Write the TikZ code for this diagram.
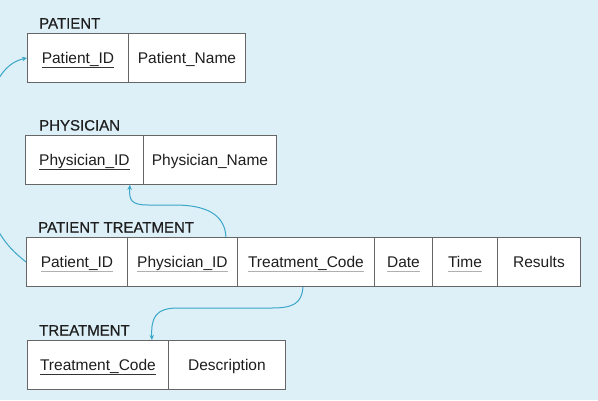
\documentclass[tikz,border=0pt]{standalone}
\usepackage{fontspec}
\setmainfont{Liberation Sans}
\newfontfamily\labelfont[FakeBold=0.6]{Liberation Sans}
\usetikzlibrary{arrows.meta}
\definecolor{bg}{HTML}{DDF0F8}
\definecolor{linkc}{HTML}{3AA6C8}
\definecolor{boxline}{HTML}{666666}
\definecolor{ink}{HTML}{1E1E1E}
\definecolor{keydark}{HTML}{333333}
\definecolor{keylight}{HTML}{B0B0B0}
\newsavebox\keybox
\newcommand\keyu[2]{\sbox\keybox{#2}\rlap{\color{#1}\rule[-4.5pt]{\wd\keybox}{1.1pt}}\usebox\keybox}
\begin{document}
\begin{tikzpicture}[x=1pt,y=-1pt,
  cell/.style={draw=boxline, fill=white, line width=0.9pt, anchor=north west,
    inner sep=0pt, minimum height=49pt, text height=11pt, text depth=0pt,
    font=\fontsize{15.5}{18}\selectfont, text=ink},
  tlabel/.style={anchor=base west, inner sep=0pt,
    font=\labelfont\fontsize{15}{18}\selectfont, text=ink},
  fk/.style={draw=linkc, line width=1pt, -{Stealth[length=5pt,width=4.5pt]}}]
\fill[bg] (0,0) rectangle (598,400);
\useasboundingbox (0,0) rectangle (598,400);
\clip (0,0) rectangle (598,400);

% PATIENT
\node[tlabel] (lp) at (39,28.5) {PATIENT};
\node[cell, minimum width=101pt] (p1) at (27,33) {\keyu{keydark}{Patient\_ID}};
\node[cell, minimum width=117pt] (p2) at (128,33) {Patient\_Name};

% PHYSICIAN
\node[tlabel] (lh) at (39,130.5) {PHYSICIAN};
\node[cell, minimum width=118pt] (h1) at (25,135) {\keyu{keydark}{Physician\_ID}};
\node[cell, minimum width=133pt] (h2) at (143,135) {Physician\_Name};

% PATIENT TREATMENT
\node[tlabel] (lt) at (38,232.5) {PATIENT TREATMENT};
\node[cell, minimum width=101pt] (t1) at (26,237) {\keyu{keylight}{Patient\_ID}};
\node[cell, minimum width=110pt] (t2) at (127,237) {\keyu{keylight}{Physician\_ID}};
\node[cell, minimum width=137pt] (t3) at (237,237) {\keyu{keylight}{Treatment\_Code}};
\node[cell, minimum width=58pt] (t4) at (374,237) {\keyu{keylight}{Date}};
\node[cell, minimum width=65pt] (t5) at (432,237) {\keyu{keylight}{Time}};
\node[cell, minimum width=83pt] (t6) at (497,237) {Results};

% TREATMENT
\node[tlabel] (lr) at (39,335.5) {TREATMENT};
\node[cell, minimum width=141pt] (r1) at (27,340) {\keyu{keydark}{Treatment\_Code}};
\node[cell, minimum width=117pt] (r2) at (168,340) {Description};

% connectors
\draw[fk] (t1.west) .. controls (5,245) and (-10,230) .. (-25,160)
  .. controls (-12,80) and (5,63) .. (p1.west);
\draw[fk] ([xshift=-12pt]t2.north east) .. controls (225,214) and (205,205) .. (175,205)
  -- (148,205) .. controls (131,205) and (129,200) .. ([xshift=-14pt]h1.south east);
\draw[fk] ([xshift=-3pt]t3.south) .. controls (302,304) and (292,308) .. (272,308)
  -- (178,308) .. controls (155,308) and (151,318) .. ([xshift=-17pt]r1.north east);
\end{tikzpicture}
\end{document}
